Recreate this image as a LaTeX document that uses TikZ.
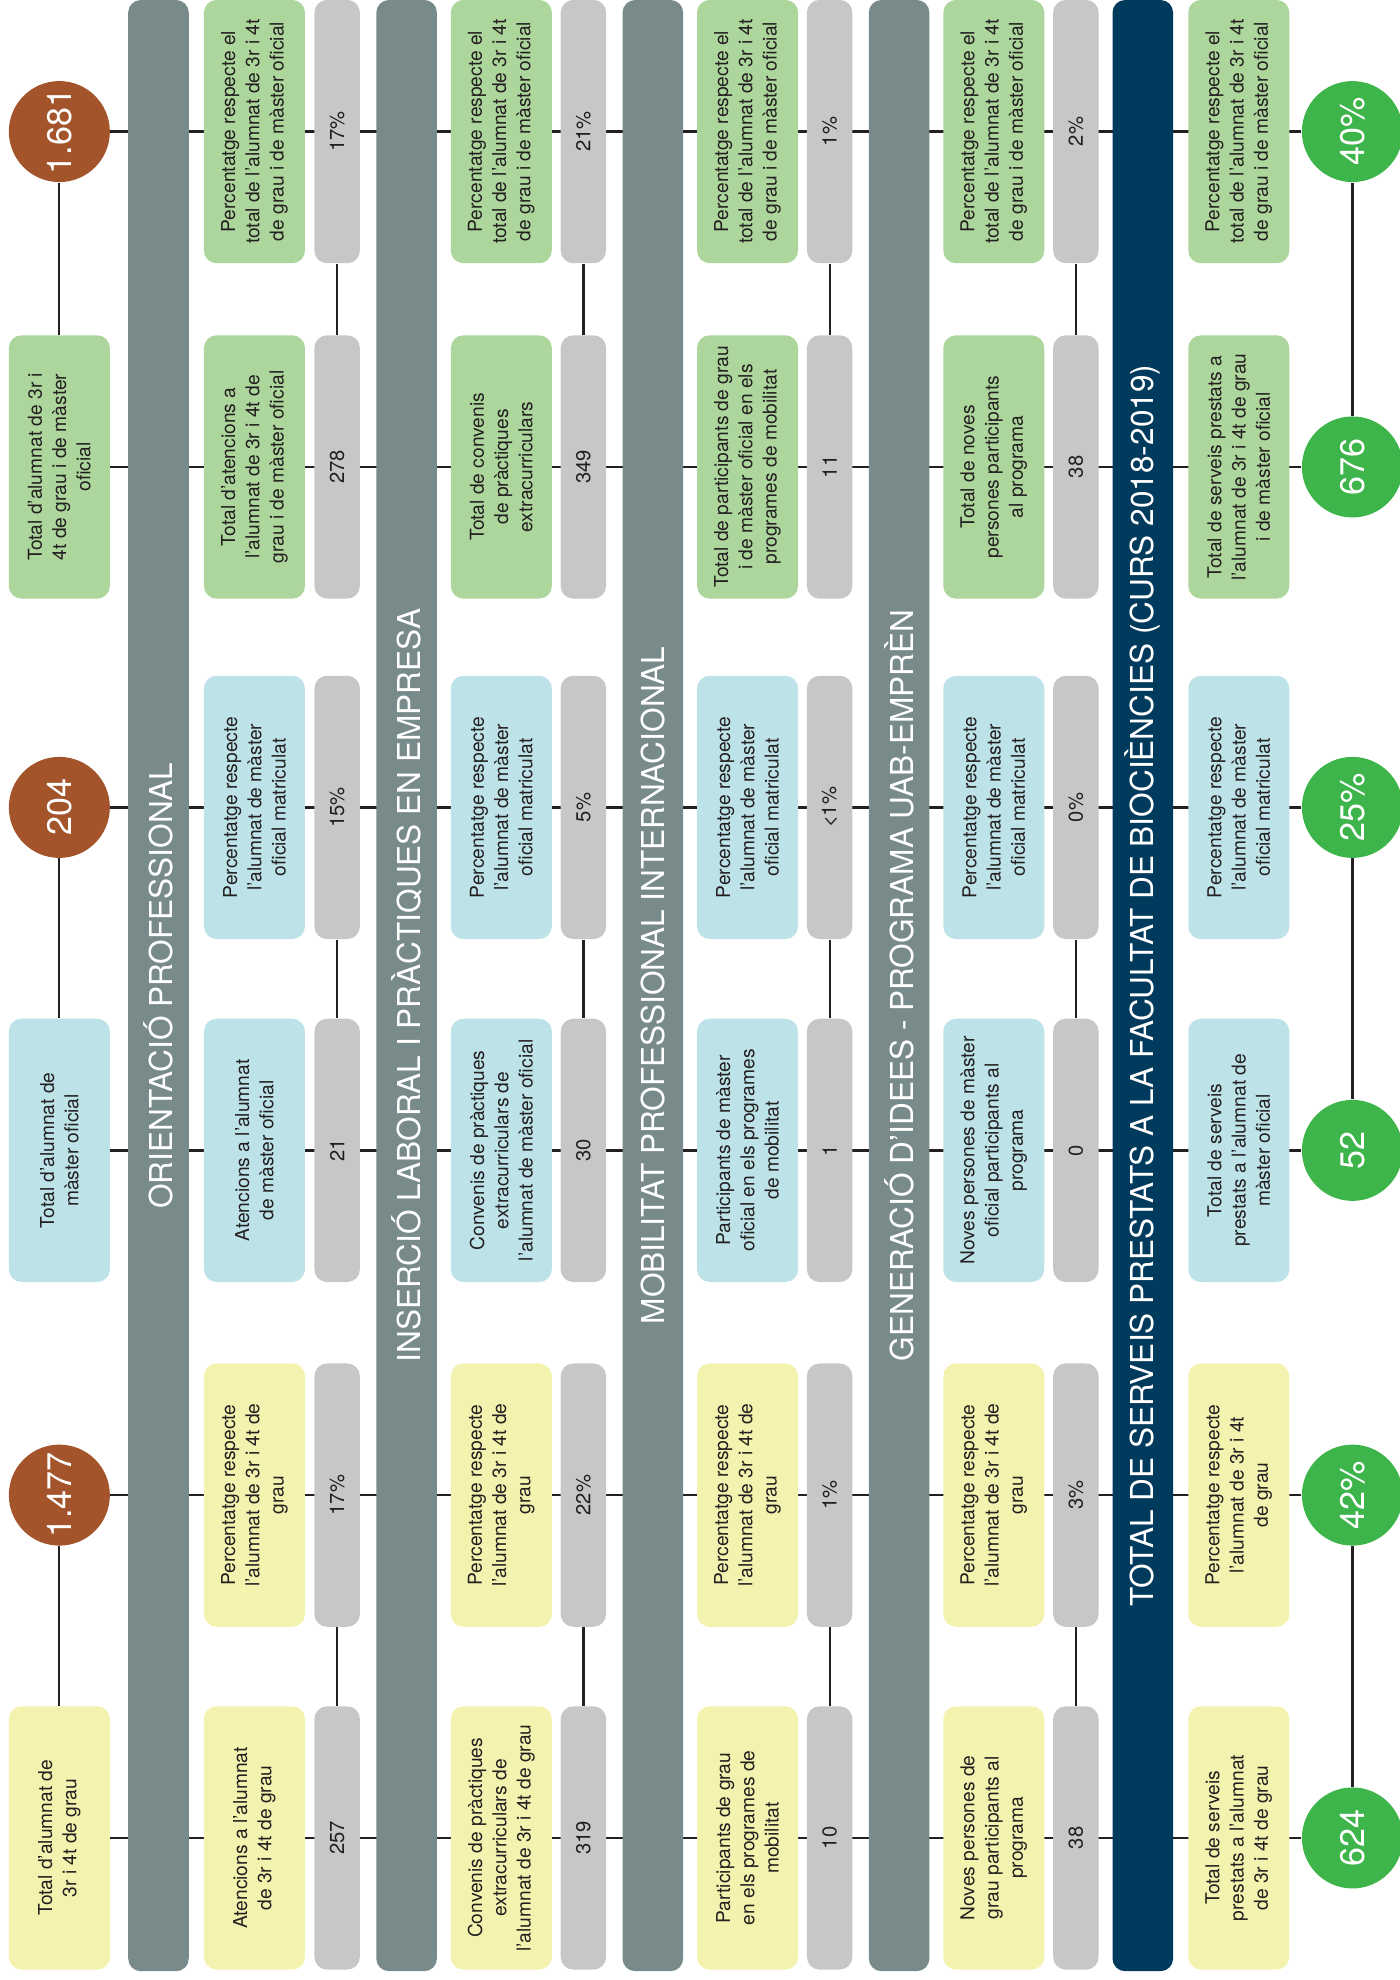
\documentclass[tikz,border=0pt]{standalone}
\usepackage{fontspec}
\setmainfont{TeX Gyre Heros}
\usetikzlibrary{backgrounds}

\definecolor{barcol}{HTML}{788A8A}
\definecolor{barnavy}{HTML}{003A5C}
\definecolor{boxgreen}{HTML}{ADD69C}
\definecolor{boxblue}{HTML}{BDE3E8}
\definecolor{boxyellow}{HTML}{F3F2AE}
\definecolor{valgray}{HTML}{C6C7C7}
\definecolor{dotbrown}{HTML}{A3542A}
\definecolor{dotgreen}{HTML}{3DB54A}
\definecolor{inkcol}{HTML}{231F20}

\newcommand\pctall{Percentatge respecte el\\total de l'alumnat de 3r i 4t\\de grau i de màster oficial}
\newcommand\pctmas{Percentatge respecte\\l'alumnat de màster\\oficial matriculat}
\newcommand\pctgrau{Percentatge respecte\\l'alumnat de 3r i 4t de\\grau}

\begin{document}
\begin{tikzpicture}[x=0.5pt, y=-0.5pt,
  every node/.style={inner sep=0pt, text=inkcol},
  txtbox/.style={rotate=90, rounded corners=5pt, minimum width=104.25pt, minimum height=40pt, align=center, font=\fontsize{7.6}{9.6}\selectfont},
  grnbox/.style={txtbox, fill=boxgreen},
  blubox/.style={txtbox, fill=boxblue},
  yelbox/.style={txtbox, fill=boxyellow},
  valbox/.style={rotate=90, rounded corners=5pt, fill=valgray, minimum width=104.25pt, minimum height=18pt, font=\fontsize{8}{9.6}\selectfont},
  catbar/.style={rotate=90, rounded corners=5pt, fill=barcol, minimum width=780.5pt, minimum height=24pt, text=white, font=\fontsize{12.5}{15}\selectfont},
  bigdot/.style={circle, rotate=90, minimum size=40pt, text=white, font=\fontsize{13.5}{16}\selectfont},
  brdot/.style={bigdot, fill=dotbrown},
  grdot/.style={bigdot, fill=dotgreen},
  joinline/.style={draw=inkcol, line width=0.9pt}]

\useasboundingbox (0,0) rectangle (1108,1568);

\node[brdot] (lA) at (47,104.2) {1.681};
\node[grnbox] (lB) at (47,369.8) {Total d'alumnat de 3r i\\4t de grau i de màster\\oficial};
\node[brdot] (lC) at (47,639.4) {204};
\node[blubox] (lD) at (47,911) {Total d'alumnat de\\màster oficial};
\node[brdot] (lE) at (47,1184) {1.477};
\node[yelbox] (lF) at (47,1455.5) {Total d'alumnat de\\3r i 4t de grau};

\node[catbar] (bar1) at (125.5,780.5) {ORIENTACIÓ PROFESSIONAL};
\node[catbar] (bar2) at (322,780.5) {INSERCIÓ LABORAL I PRÀCTIQUES EN EMPRESA};
\node[catbar] (bar3) at (517,780.5) {MOBILITAT PROFESSIONAL INTERNACIONAL};
\node[catbar] (bar4) at (712,780.5) {GENERACIÓ D'IDEES - PROGRAMA UAB-EMPRÈN};
\node[catbar, fill=barnavy] (bar5) at (905,780.5) {TOTAL DE SERVEIS PRESTATS A LA FACULTAT DE BIOCIÈNCIES (CURS 2018-2019)};

\node[grnbox] (t1A) at (201.5,104.2) {\pctall};
\node[grnbox] (t1B) at (201.5,369.8) {Total d'atencions a\\l'alumnat de 3r i 4t de\\grau i de màster oficial};
\node[blubox] (t1C) at (201.5,639.4) {\pctmas};
\node[blubox] (t1D) at (201.5,911) {Atencions a l'alumnat\\de màster oficial};
\node[yelbox] (t1E) at (201.5,1184) {\pctgrau};
\node[yelbox] (t1F) at (201.5,1455.5) {Atencions a l'alumnat\\de 3r i 4t de grau};
\node[valbox] (v1A) at (267,104.2) {17\%};
\node[valbox] (v1B) at (267,369.8) {278};
\node[valbox] (v1C) at (267,639.4) {15\%};
\node[valbox] (v1D) at (267,911) {21};
\node[valbox] (v1E) at (267,1184) {17\%};
\node[valbox] (v1F) at (267,1455.5) {257};

\node[grnbox] (t2A) at (397,104.2) {\pctall};
\node[grnbox] (t2B) at (397,369.8) {Total de convenis\\de pràctiques\\extracurriculars};
\node[blubox] (t2C) at (397,639.4) {\pctmas};
\node[blubox] (t2D) at (397,911) {Convenis de pràctiques\\extracurriculars de\\l'alumnat de màster oficial};
\node[yelbox] (t2E) at (397,1184) {\pctgrau};
\node[yelbox] (t2F) at (397,1455.5) {Convenis de pràctiques\\extracurriculars de\\l'alumnat de 3r i 4t de grau};
\node[valbox] (v2A) at (462,104.2) {21\%};
\node[valbox] (v2B) at (462,369.8) {349};
\node[valbox] (v2C) at (462,639.4) {5\%};
\node[valbox] (v2D) at (462,911) {30};
\node[valbox] (v2E) at (462,1184) {22\%};
\node[valbox] (v2F) at (462,1455.5) {319};

\node[grnbox] (t3A) at (592,104.2) {\pctall};
\node[grnbox] (t3B) at (592,369.8) {Total de participants de grau\\i de màster oficial en els\\programes de mobilitat};
\node[blubox] (t3C) at (592,639.4) {\pctmas};
\node[blubox] (t3D) at (592,911) {Participants de màster\\oficial en els programes\\de mobilitat};
\node[yelbox] (t3E) at (592,1184) {\pctgrau};
\node[yelbox] (t3F) at (592,1455.5) {Participants de grau\\en els programes de\\mobilitat};
\node[valbox] (v3A) at (657,104.2) {1\%};
\node[valbox] (v3B) at (657,369.8) {11};
\node[valbox] (v3C) at (657,639.4) {<1\%};
\node[valbox] (v3D) at (657,911) {1};
\node[valbox] (v3E) at (657,1184) {1\%};
\node[valbox] (v3F) at (657,1455.5) {10};

\node[grnbox] (t4A) at (787,104.2) {\pctall};
\node[grnbox] (t4B) at (787,369.8) {Total de noves\\persones participants\\al programa};
\node[blubox] (t4C) at (787,639.4) {\pctmas};
\node[blubox] (t4D) at (787,911) {Noves persones de màster\\oficial participants al\\programa};
\node[yelbox] (t4E) at (787,1184) {\pctgrau};
\node[yelbox] (t4F) at (787,1455.5) {Noves persones de\\grau participants al\\programa};
\node[valbox] (v4A) at (852,104.2) {2\%};
\node[valbox] (v4B) at (852,369.8) {38};
\node[valbox] (v4C) at (852,639.4) {0\%};
\node[valbox] (v4D) at (852,911) {0};
\node[valbox] (v4E) at (852,1184) {3\%};
\node[valbox] (v4F) at (852,1455.5) {38};

\node[grnbox] (t5A) at (981,104.2) {\pctall};
\node[grnbox] (t5B) at (981,369.8) {Total de serveis prestats a\\l'alumnat de 3r i 4t de grau\\i de màster oficial};
\node[blubox] (t5C) at (981,639.4) {\pctmas};
\node[blubox] (t5D) at (981,911) {Total de serveis\\prestats a l'alumnat de\\màster oficial};
\node[yelbox] (t5E) at (981,1184) {Percentatge respecte\\l'alumnat de 3r i 4t\\de grau};
\node[yelbox] (t5F) at (981,1455.5) {Total de serveis\\prestats a l'alumnat\\de 3r i 4t de grau};
\node[grdot] (gA) at (1071,104.2) {40\%};
\node[grdot] (gB) at (1071,369.8) {676};
\node[grdot] (gC) at (1071,639.4) {25\%};
\node[grdot] (gD) at (1071,911) {52};
\node[grdot] (gE) at (1071,1184) {42\%};
\node[grdot] (gF) at (1071,1455.5) {624};

\begin{scope}[on background layer]
\draw[joinline] (lA) -- (gA);
\draw[joinline] (lB) -- (gB);
\draw[joinline] (lC) -- (gC);
\draw[joinline] (lD) -- (gD);
\draw[joinline] (lE) -- (gE);
\draw[joinline] (lF) -- (gF);

\draw[joinline] (lA) -- (lB);
\draw[joinline] (lC) -- (lD);
\draw[joinline] (lE) -- (lF);
\draw[joinline] (v1A) -- (v1B);
\draw[joinline] (v1C) -- (v1D);
\draw[joinline] (v1E) -- (v1F);
\draw[joinline] (v2A) -- (v2B);
\draw[joinline] (v2C) -- (v2D);
\draw[joinline] (v2E) -- (v2F);
\draw[joinline] (v3A) -- (v3B);
\draw[joinline] (v3C) -- (v3D);
\draw[joinline] (v3E) -- (v3F);
\draw[joinline] (v4A) -- (v4B);
\draw[joinline] (v4C) -- (v4D);
\draw[joinline] (v4E) -- (v4F);
\draw[joinline] (gA) -- (gB);
\draw[joinline] (gC) -- (gD);
\draw[joinline] (gE) -- (gF);
\end{scope}

\end{tikzpicture}
\end{document}
